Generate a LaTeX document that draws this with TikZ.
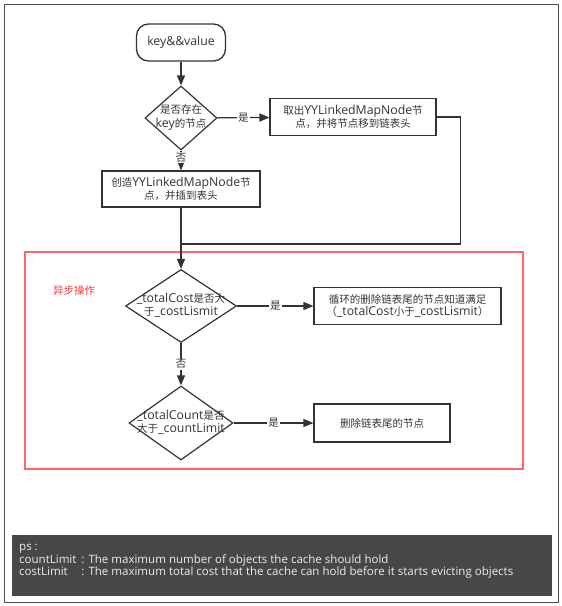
\documentclass[tikz,border=0pt]{standalone}
\usepackage{fontspec}
\setmainfont{Open Sans}[Scale=1.17]
\newfontfamily\zh{Noto Sans CJK SC}
\usetikzlibrary{shapes.geometric,arrows.meta}
\definecolor{ink}{HTML}{333333}
\definecolor{asyncred}{HTML}{FF6666}
\definecolor{labelred}{HTML}{FF3333}
\definecolor{notebg}{HTML}{474747}
\newcommand{\qlines}[1]{\makebox[0pt]{\begin{tabular}{@{}c@{}}#1\end{tabular}}}
\begin{document}
\begin{tikzpicture}[x=1pt,y=-1pt,
    every node/.style={font=\fontsize{10.5}{12.5}\selectfont, text=ink},
    terminal/.style={draw=ink, line width=1.3pt, rounded corners=12pt,
      minimum width=89pt, minimum height=37pt},
    process/.style={draw=ink, line width=1.1pt, align=center, inner sep=0pt},
    decision/.style={draw=ink, line width=1.2pt, diamond, inner sep=0pt},
    yesno/.style={fill=white, inner sep=1pt, font=\zh\fontsize{10.5}{12.5}\selectfont},
    flow/.style={draw=ink, line width=1.3pt}]
  \useasboundingbox (0,0) rectangle (562,606);
  % frame and async region
  \draw[black!70, line width=1pt] (4,4) rectangle (558,602);
  \draw[asyncred, line width=1.2pt] (25,252) rectangle (523,469);
  \fill[notebg] (12,535) rectangle (552,596);
  \draw
    (181,42.5) node[terminal] (start){key\&\&value}
    (181,118) node[decision, minimum width=72pt, minimum height=64pt] (q1){\qlines{{\zh 是否存在}\\key{\zh 的节点}}}
    (353,117) node[process, minimum width=166pt, minimum height=37pt] (take){{\zh 取出}YYLinkedMapNode{\zh 节}\\{\zh 点，并将节点移到链表头}}
    (181,189) node[process, minimum width=158pt, minimum height=36pt] (create){{\zh 创造}YYLinkedMapNode{\zh 节}\\{\zh 点，并插到表头}}
    (181,306) node[decision, minimum width=111pt, minimum height=73pt] (q2){\qlines{\_totalCost{\zh 是否大}\\{\zh 于}\_costLismit}}
    (407.5,306) node[process, minimum width=187pt, minimum height=37pt] (evict){{\zh 循环的删除链表尾的节点知道满足}\\{\zh （}\_totalCost{\zh 小于}\_costLismit{\zh ）}}
    (181,423) node[decision, minimum width=104pt, minimum height=74pt] (q3){\qlines{\_totalCount{\zh 是否}\\{\zh 大于}\_countLimit}}
    (382,423) node[process, minimum width=136pt, minimum height=38pt] (remove){{\zh 删除链表尾的节点}}
    (74,291) node[text=labelred, font=\zh\fontsize{10.5}{12.5}\selectfont] (async){异步操作};
  \coordinate (join) at (181,244);
  \node[anchor=north west, inner sep=0pt, text=white!92!black,
    font=\fontsize{9.85}{12.6}\selectfont] (note) at (19,541.5)
    {\begin{tabular}{@{}l@{\hspace{5pt}}l@{}}
      ps : & \\
      countLimit & : The maximum number of objects the cache should hold\\
      costLimit & : The maximum total cost that the cache can hold before it starts evicting objects
    \end{tabular}};
  \begin{scope}[flow, -{Triangle[length=10pt,width=8pt]}]
    \draw (start) to (q1);
    \draw (q1) to node[yesno]{是} (take);
    \draw (q1) to node[yesno, pos=.35]{否} (create);
    \draw (create) to (q2);
    \draw (q2) to node[yesno]{是} (evict);
    \draw (q2) to node[yesno]{否} (q3);
    \draw (q3) to node[yesno]{是} (remove);
  \end{scope}
  \draw[flow] (take.east) -- ++(24,0) |- (join);
\end{tikzpicture}
\end{document}
